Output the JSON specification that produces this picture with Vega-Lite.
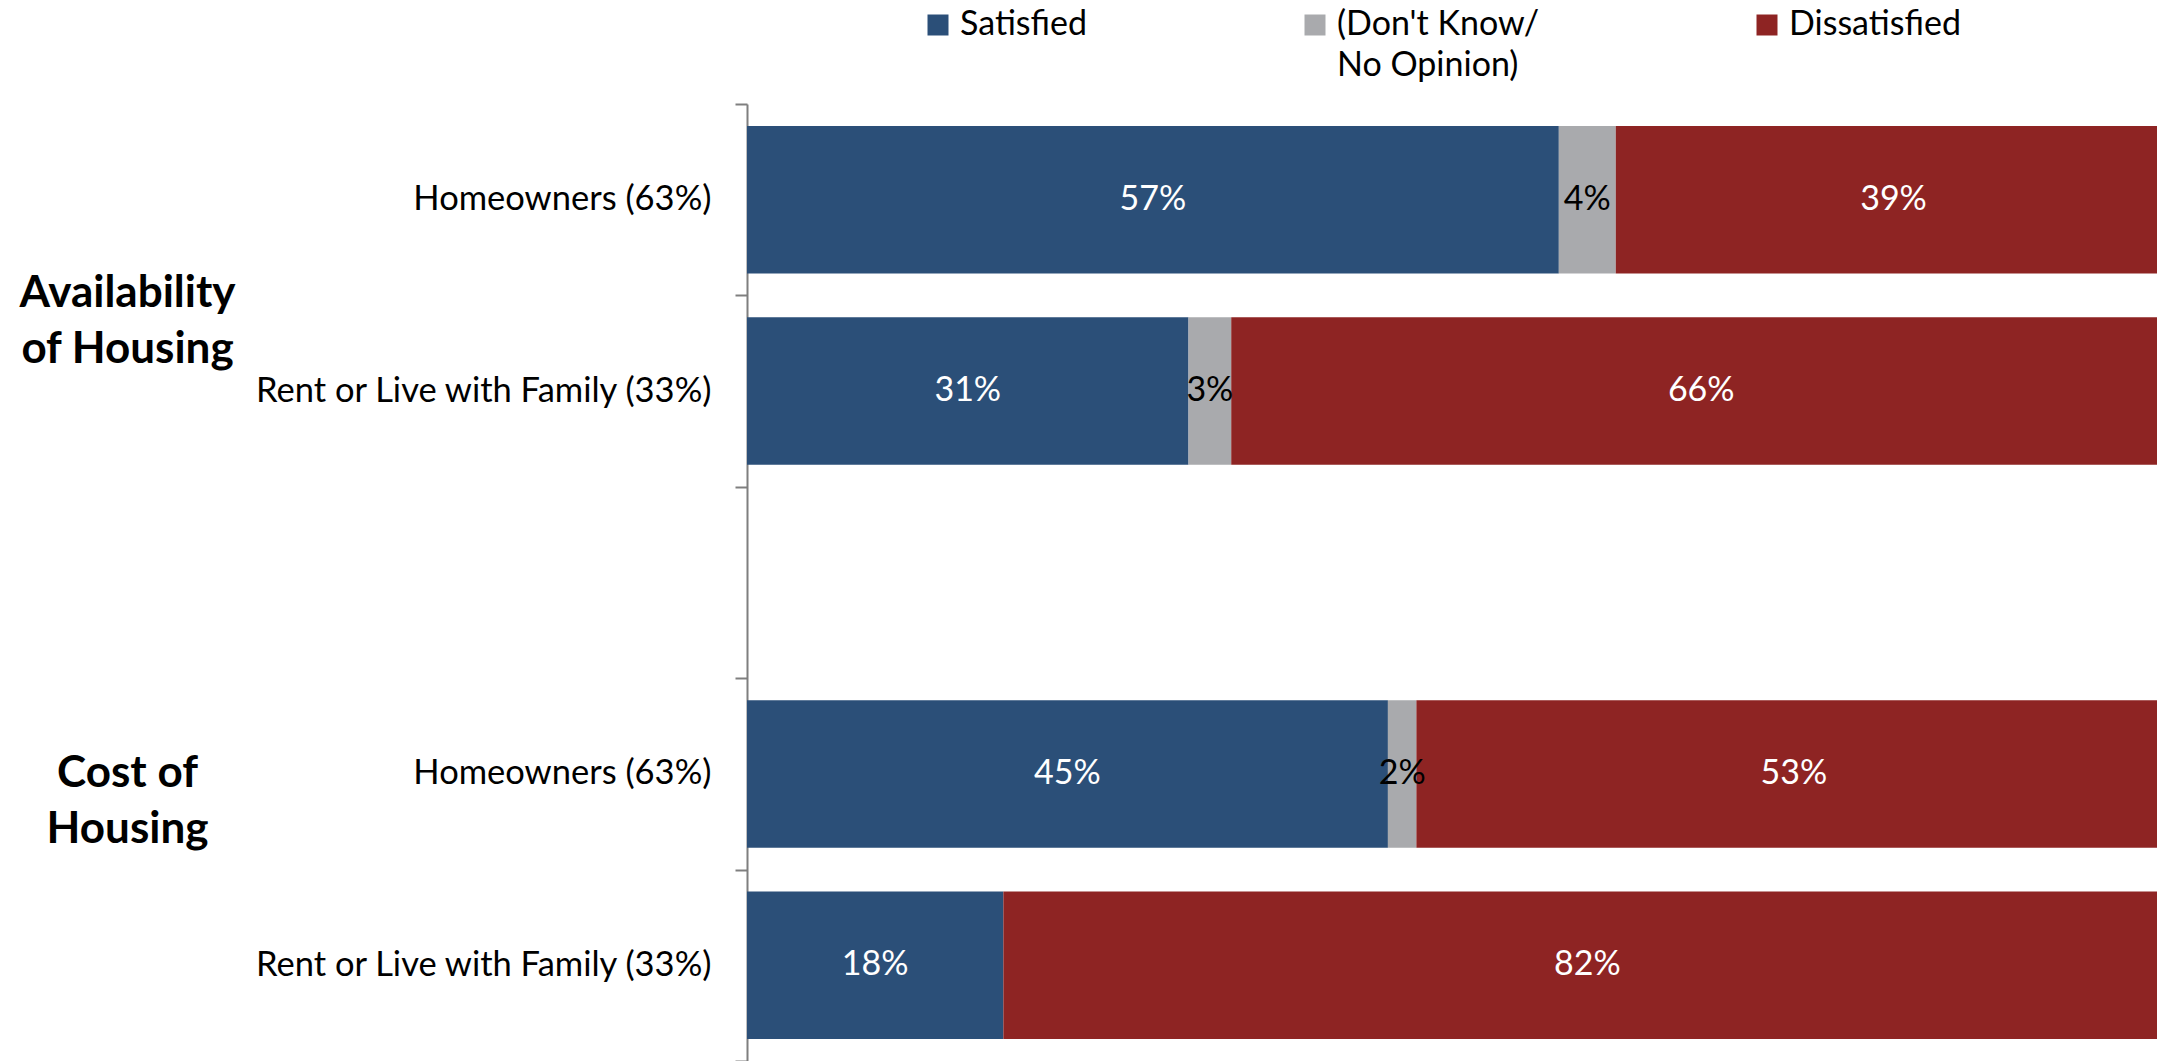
{
  "$schema": "https://vega.github.io/schema/vega-lite/v6.json",
  "width": 1410,
  "height": 957,
  "autosize": {"type": "none"},
  "padding": {"left": 747, "top": 104, "right": 0, "bottom": 0},
  "background": "white",
  "config": {
    "view": {"stroke": null},
    "font": "Lato",
    "style": {"guide-label": {"lineHeight": 41}}
  },
  "data": {
    "values": [
      {"row": "Availability~of Housing|Homeowners (63%)", "response": "Satisfied", "rank": 1, "share": 0.57},
      {"row": "Availability~of Housing|Homeowners (63%)", "response": "(Don't Know/ No Opinion)", "rank": 2, "share": 0.04},
      {"row": "Availability~of Housing|Homeowners (63%)", "response": "Dissatisfied", "rank": 3, "share": 0.39},
      {"row": "Availability~of Housing|Rent or Live with Family (33%)", "response": "Satisfied", "rank": 1, "share": 0.31},
      {"row": "Availability~of Housing|Rent or Live with Family (33%)", "response": "(Don't Know/ No Opinion)", "rank": 2, "share": 0.03},
      {"row": "Availability~of Housing|Rent or Live with Family (33%)", "response": "Dissatisfied", "rank": 3, "share": 0.66},
      {"row": "Cost of~Housing|Homeowners (63%)", "response": "Satisfied", "rank": 1, "share": 0.45},
      {"row": "Cost of~Housing|Homeowners (63%)", "response": "(Don't Know/ No Opinion)", "rank": 2, "share": 0.02},
      {"row": "Cost of~Housing|Homeowners (63%)", "response": "Dissatisfied", "rank": 3, "share": 0.53},
      {"row": "Cost of~Housing|Rent or Live with Family (33%)", "response": "Satisfied", "rank": 1, "share": 0.18},
      {"row": "Cost of~Housing|Rent or Live with Family (33%)", "response": "Dissatisfied", "rank": 3, "share": 0.82}
    ]
  },
  "layer": [
    {
      "mark": {"type": "bar", "clip": true, "height": {"band": 0.7706}},
      "encoding": {
        "y": {
          "field": "row",
          "type": "nominal",
          "scale": {
            "domain": [
              "Availability~of Housing|Homeowners (63%)",
              "Availability~of Housing|Rent or Live with Family (33%)",
              "(gap)",
              "Cost of~Housing|Homeowners (63%)",
              "Cost of~Housing|Rent or Live with Family (33%)"
            ],
            "paddingInner": 0,
            "paddingOuter": 0
          },
          "axis": {
            "title": null,
            "tickBand": "extent",
            "domainColor": "#7f7f7f",
            "domainWidth": 2,
            "tickColor": "#7f7f7f",
            "tickWidth": 2,
            "tickSize": 12,
            "labelPadding": 24,
            "labelFontSize": 34.5,
            "labelColor": "#000000",
            "labelLimit": 700,
            "labelExpr": "isString(datum.value) && indexof(datum.value, '|') > 0 ? split(datum.value, '|')[1] : ''"
          }
        },
        "x": {
          "field": "share",
          "type": "quantitative",
          "stack": "zero",
          "scale": {"domain": [0, 0.99], "nice": false},
          "axis": null
        },
        "order": {"field": "rank", "type": "quantitative"},
        "color": {
          "field": "response",
          "type": "nominal",
          "scale": {
            "domain": ["Satisfied", "(Don't Know/ No Opinion)", "Dissatisfied"],
            "range": ["#2B4F78", "#A9AAAD", "#8E2423"]
          },
          "legend": {
            "title": null,
            "orient": "none",
            "legendX": 174,
            "legendY": -96,
            "direction": "horizontal",
            "symbolType": "square",
            "symbolSize": 441,
            "labelFontSize": 34,
            "labelColor": "#000000",
            "labelOffset": 5,
            "columnPadding": 210,
            "labelLimit": 700,
            "labelExpr": "isString(datum.label) && indexof(datum.label, 'No Opinion') > 0 ? [\"(Don't Know/\", 'No Opinion)'] : [datum.label, '']"
          }
        }
      }
    },
    {
      "mark": {"type": "text", "fontSize": 34},
      "encoding": {
        "y": {
          "field": "row",
          "type": "nominal",
          "axis": {
            "title": null,
            "orient": "left",
            "domain": false,
            "ticks": false,
            "tickSize": 0,
            "labelPadding": 620,
            "labelAlign": "center",
            "labelFontSize": 44,
            "labelFontWeight": "bold",
            "labelColor": "#000000",
            "labelLineHeight": 56,
            "labelLimit": 700,
            "labelExpr": "isString(datum.value) && indexof(datum.value, 'Homeowners') > 0 ? split(split(datum.value, '|')[0], '~') : ''",
            "labelOffset": {"condition": {"test": "isString(datum.value) && indexof(datum.value, 'Availability') == 0", "value": 94}, "value": 0}
          }
        },
        "x": {
          "field": "share",
          "type": "quantitative",
          "stack": "zero",
          "bandPosition": 0.5
        },
        "order": {"field": "rank", "type": "quantitative"},
        "detail": {"field": "response"},
        "text": {"field": "share", "type": "quantitative", "format": ".0%"},
        "color": {"condition": {"test": "datum.rank == 2", "value": "#000000"}, "value": "#ffffff"}
      }
    }
  ],
  "resolve": {"axis": {"y": "independent"}}
}
